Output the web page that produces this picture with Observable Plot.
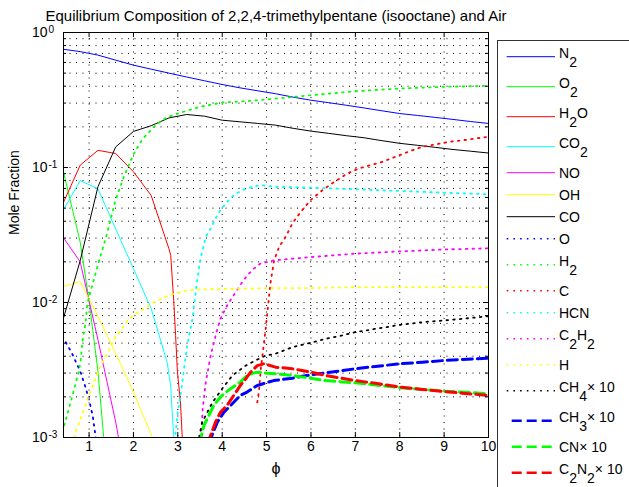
<!DOCTYPE html>
<html><head><meta charset="utf-8">
<script src="https://cdn.jsdelivr.net/npm/d3@7"></script>
<script src="https://cdn.jsdelivr.net/npm/@observablehq/plot@0.6"></script>
<style>
body{margin:0;background:#fff;}
#wrap{position:relative;width:629px;height:487px;overflow:hidden;font-family:"Liberation Sans",Arial,sans-serif;}
#wrap svg{position:absolute;left:0;top:0;}
</style></head><body><div id="wrap"></div>
<script>
// ---- data: [phi, mole fraction] (CH4, CH3, CN, C2N2 already ×10 as plotted)
const N2 = [[0.4,0.753],[0.8,0.722],[1.2,0.68],[1.6,0.624],[2.0,0.573],[2.4,0.535],[2.8,0.5],[3.2,0.468],[3.6,0.439],[4.0,0.412],[4.4,0.389],[4.8,0.37],[5.2,0.352],[5.6,0.332],[6.0,0.315],[6.4,0.302],[6.8,0.289],[7.2,0.276],[7.6,0.263],[8.0,0.251],[8.4,0.243],[8.8,0.235],[9.2,0.227],[9.6,0.219],[10,0.212]];
const O2 = [[0.4,0.1],[0.8,0.028],[1.0,0.0103],[1.2,0.0031],[1.33,0.001],[1.5,0.0003]];
const H2O = [[0.4,0.053],[0.8,0.104],[1.2,0.134],[1.6,0.127],[2.0,0.093],[2.4,0.062],[2.8,0.025],[2.84,0.0223],[2.91,0.01],[2.95,0.0057],[2.99,0.0031],[3.06,0.0018],[3.1,0.001],[3.15,0.0005]];
const CO2 = [[0.4,0.047],[0.8,0.08],[1.2,0.0695],[1.6,0.0351],[2.0,0.0178],[2.4,0.009],[2.76,0.0036],[2.84,0.0024],[2.87,0.0016],[2.91,0.001],[2.96,0.0004]];
const NO = [[0.4,0.031],[0.8,0.02],[1.2,0.0053],[1.6,0.0013],[2.0,0.00025]];
const OH = [[0.4,0.0131],[0.8,0.0143],[1.2,0.0079],[1.6,0.0042],[2.0,0.00217],[2.4,0.00105],[2.8,0.0005]];
const CO = [[0.4,0.0072],[0.8,0.0204],[1.2,0.072],[1.6,0.142],[2.0,0.185],[2.4,0.204],[2.8,0.233],[3.2,0.247],[3.6,0.24],[4.0,0.224],[4.4,0.218],[4.8,0.212],[5.2,0.206],[5.6,0.195],[6.0,0.186],[6.4,0.179],[6.8,0.172],[7.2,0.166],[7.6,0.158],[8.0,0.151],[8.4,0.146],[8.8,0.141],[9.2,0.136],[9.6,0.132],[10,0.128]];
const O = [[0.4,0.0056],[0.6,0.0043],[0.8,0.0031],[0.93,0.0023],[1.0,0.0019],[1.08,0.00146],[1.15,0.001],[1.2,0.0008]];
const H2 = [[0.4,0.0011],[0.6,0.0019],[0.77,0.0031],[0.81,0.0037],[0.85,0.0051],[0.92,0.007],[0.96,0.0098],[1.04,0.0123],[1.2,0.019],[1.4,0.032],[1.6,0.058],[1.8,0.088],[2.0,0.125],[2.2,0.162],[2.5,0.206],[2.75,0.235],[3.0,0.251],[3.5,0.282],[4.0,0.303],[4.57,0.31],[5.2,0.324],[6.0,0.343],[7.0,0.367],[8.0,0.385],[9.0,0.396],[10,0.403]];
const C = [[4.79,0.00182],[4.83,0.00223],[4.87,0.00323],[4.98,0.0064],[5.05,0.0107],[5.09,0.0141],[5.17,0.0205],[5.28,0.0257],[5.43,0.0307],[5.58,0.0385],[5.77,0.047],[5.99,0.0573],[6.26,0.068],[6.52,0.078],[6.82,0.0903],[7.08,0.0984],[7.34,0.104],[7.6,0.11],[7.9,0.12],[8.2,0.131],[8.5,0.142],[8.8,0.148],[9.11,0.155],[9.41,0.159],[9.71,0.164],[10,0.169]];
const HCN = [[2.9,0.0006],[2.95,0.00109],[2.99,0.00146],[3.06,0.00205],[3.14,0.00323],[3.21,0.0048],[3.33,0.0076],[3.44,0.015],[3.51,0.0211],[3.63,0.0306],[3.74,0.0353],[3.85,0.0419],[3.96,0.0483],[4.11,0.0557],[4.26,0.0624],[4.45,0.068],[4.68,0.072],[4.86,0.074],[5.2,0.072],[6.0,0.0708],[7.0,0.069],[8.0,0.0671],[9.0,0.065],[10,0.0634]];
const C2H2 = [[3.5,0.0008],[3.52,0.001],[3.56,0.00163],[3.63,0.00257],[3.74,0.00405],[3.89,0.00638],[3.96,0.00757],[4.11,0.0095],[4.3,0.0119],[4.45,0.0141],[4.56,0.0158],[4.71,0.0178],[4.86,0.0194],[5.16,0.0205],[5.58,0.0211],[6.0,0.0217],[7.0,0.023],[8.0,0.0239],[9.0,0.0247],[10,0.0252]];
const H = [[0.6,0.0008],[0.7,0.00111],[0.81,0.00138],[0.92,0.00173],[1.0,0.00205],[1.11,0.00257],[1.23,0.00323],[1.34,0.00383],[1.45,0.0044],[1.56,0.00538],[1.68,0.00603],[1.9,0.00757],[2.05,0.00824],[2.24,0.009],[2.46,0.01005],[2.69,0.0109],[2.91,0.0116],[3.21,0.0123],[3.51,0.0125],[5.2,0.0128],[6.0,0.0128],[7.0,0.013],[8.0,0.013],[10,0.013]];
const CH4x10 = [[3.45,0.0009],[3.55,0.0013],[3.78,0.00182],[4.0,0.0023],[4.23,0.00288],[4.53,0.00341],[4.75,0.00372],[4.98,0.00405],[5.2,0.00417],[5.58,0.00467],[5.99,0.00503],[6.33,0.00538],[6.7,0.0057],[7.0,0.00603],[7.46,0.00638],[8.02,0.00684],[8.51,0.00715],[9.0,0.00736],[9.41,0.00757],[10,0.00792]];
const CH3x10 = [[3.72,0.0009],[3.75,0.001],[3.89,0.0013],[4.04,0.00154],[4.19,0.00173],[4.41,0.00205],[4.56,0.00217],[4.79,0.00243],[5.16,0.00264],[5.58,0.00275],[5.99,0.00291],[6.33,0.00301],[7.0,0.00323],[7.45,0.00336],[8.02,0.00352],[8.51,0.00361],[9.0,0.00372],[9.41,0.00378],[10,0.00387]];
const CNx10 = [[3.5,0.0009],[3.52,0.001],[3.59,0.00123],[3.7,0.00146],[3.81,0.00173],[3.93,0.00194],[4.04,0.00211],[4.19,0.0023],[4.41,0.00257],[4.56,0.00288],[4.71,0.00301],[4.86,0.00305],[5.01,0.00299],[5.2,0.00296],[5.58,0.00288],[5.99,0.00275],[6.33,0.00264],[7.0,0.00254],[7.45,0.00245],[8.02,0.00234],[8.51,0.00227],[9.0,0.0022],[9.41,0.00217],[10,0.00211]];
const C2N2x10 = [[3.68,0.0009],[3.72,0.001],[3.85,0.0013],[3.96,0.00154],[4.11,0.00173],[4.26,0.00205],[4.41,0.00243],[4.53,0.00272],[4.64,0.00305],[4.79,0.00341],[4.94,0.00352],[5.2,0.00332],[5.58,0.00323],[5.99,0.00305],[6.33,0.00288],[7.0,0.00264],[7.45,0.00252],[8.02,0.00236],[8.51,0.00227],[9.0,0.00219],[9.41,0.00213],[10,0.00205]];

// legend labels ("_" marks a one-character subscript)
const labels = ["N_2","O_2","H_2O","CO_2","NO","OH","CO","O","H_2","C","HCN","C_2H_2","H","CH_4× 10","CH_3× 10","CN× 10","C_2N_2× 10"];
const seriesValues = [N2,O2,H2O,CO2,NO,OH,CO,O,H2,C,HCN,C2H2,H,CH4x10,CH3x10,CNx10,C2N2x10];
const colors = ["#0000ff","#00ff00","#ff0000","#00ffff","#ff00ff","#ffff00","#000000","#0000ff","#00ff00","#ff0000","#00ffff","#ff00ff","#ffff00","#000000","#0000ff","#00ff00","#ff0000"];
const kinds = ["solid","solid","solid","solid","solid","solid","solid","dot","dot","dot","dot","dot","dot","dot","dash","dash","dash"];
const xTicks = [1,2,3,4,5,6,7,8,9,10];
const yDecades = [0.001,0.01,0.1,1];
const yExponents = ["-3","-2","-1","0"];
const titleText = "Equilibrium Composition of 2,2,4-trimethylpentane (isooctane) and Air";
const yLabel = "Mole Fraction";
const xLabel = "\u03D5";

const yMinor = [-3,-2,-1].flatMap(e => [2,3,4,5,6,7,8,9].map(m => +(m*Math.pow(10,e)).toPrecision(3)));
const styleOf = {
  solid: {strokeWidth: 1},
  dot: {strokeWidth: 1.8, strokeDasharray: "1.6,5.1"},
  dash: {strokeWidth: 3, strokeDasharray: "10,5"}
};
const FONT = "Liberation Sans, Arial, sans-serif";
const W = 629, Hh = 487, ML = 63, MR = 141, MT = 32, MB = 50;
const fw = W - ML - MR, fh = Hh - MT - MB;

const lineMarks = seriesValues.map((s, i) => Plot.line(s, {
  x: d => d[0], y: d => d[1], stroke: colors[i], clip: true, ...styleOf[kinds[i]]
}));

const plot = Plot.plot({
  width: W, height: Hh, marginLeft: ML, marginRight: MR, marginTop: MT, marginBottom: MB,
  x: {domain: [0.424, 10], axis: null},
  y: {type: "log", domain: [0.001, 1], axis: null},
  style: {fontFamily: FONT, fontSize: "14px", background: "white", color: "black"},
  marks: [
    Plot.ruleY([...yDecades, ...yMinor], {stroke: "black", strokeDasharray: "1,5.5", strokeWidth: 1}),
    Plot.ruleX(xTicks, {stroke: "black", strokeDasharray: "1,5.5", strokeWidth: 1}),
    ...lineMarks,
    Plot.ruleX(xTicks, {stroke: "black", insetTop: fh - 5}),
    Plot.ruleX(xTicks, {stroke: "black", insetBottom: fh - 5}),
    Plot.ruleY(yDecades, {stroke: "black", insetRight: fw - 5}),
    Plot.ruleY(yDecades, {stroke: "black", insetLeft: fw - 5}),
    Plot.ruleY(yMinor, {stroke: "black", insetRight: fw - 3}),
    Plot.ruleY(yMinor, {stroke: "black", insetLeft: fw - 3}),
    Plot.frame({stroke: "black"}),
    Plot.text(xTicks, {x: d => d, frameAnchor: "bottom", dy: 13, text: d => String(d), fontSize: 14}),
    Plot.text(yDecades, {y: d => d, frameAnchor: "left", dx: -16, textAnchor: "end", text: () => "10", fontSize: 14}),
    Plot.text(yDecades, {y: d => d, frameAnchor: "left", dx: -15, dy: -2.5, textAnchor: "start", text: (d, i) => yExponents[i], fontSize: 10}),
    Plot.text([titleText], {frameAnchor: "top", dy: -22.5, fontSize: 15}),
    Plot.text([yLabel], {frameAnchor: "left", dx: -49, rotate: -90, fontSize: 14}),
    Plot.text([xLabel], {frameAnchor: "bottom", dy: 36, fontSize: 16})
  ]
});
const wrap = document.getElementById("wrap");
wrap.appendChild(plot);

// ---- legend
const lg = d3.select(wrap).append("svg").attr("width", W).attr("height", Hh)
  .style("pointer-events", "none").attr("font-family", FONT).attr("font-size", 14);
lg.append("rect").attr("x", 497.5).attr("y", 40.5).attr("width", 200).attr("height", 500)
  .attr("fill", "white").attr("stroke", "#333");
const hasSub = labels.map(l => l.includes("_"));
const hOf = i => hasSub[i] ? 30 : 22;
let c = 56.7;
labels.forEach((lab, i) => {
  if (i > 0) c += (hOf(i - 1) + hOf(i)) / 2;
  const k = kinds[i];
  const x1 = k === "dash" ? 511.7 : 506.7, x2 = k === "dash" ? 551.7 : 555;
  const ln = lg.append("line").attr("x1", x1).attr("x2", x2).attr("y1", c).attr("y2", c)
    .attr("stroke", colors[i]).attr("stroke-width", k === "dash" ? 2.5 : (k === "dot" ? 1.5 : 1));
  if (k === "dot") ln.attr("stroke-dasharray", "1.6,5.1");
  if (k === "dash") ln.attr("stroke-dasharray", "10,5");
  const t = lg.append("text").attr("x", 559).attr("y", hasSub[i] ? c + 1 : c + 5.5).attr("fill", "black");
  let j = 0, down = false;
  while (j < lab.length) {
    if (lab[j] === "_") {
      t.append("tspan").attr("dy", 9.5).text(lab[j + 1]);
      j += 2; down = true;
    } else {
      let s = "";
      while (j < lab.length && lab[j] !== "_") { s += lab[j]; j++; }
      const sp = t.append("tspan").text(s);
      if (down) { sp.attr("dy", -9.5); down = false; }
    }
  }
});
</script></body></html>
